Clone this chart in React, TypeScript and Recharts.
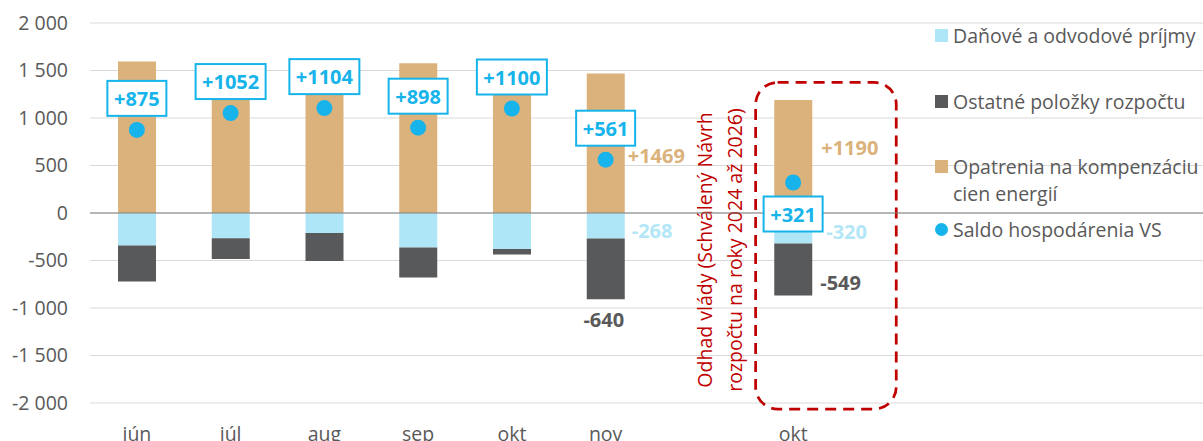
import React from 'react';
import {
  ComposedChart,
  Bar,
  Line,
  XAxis,
  YAxis,
  CartesianGrid,
  ReferenceLine,
  ReferenceArea,
  LabelList,
  Legend,
} from 'recharts';

if (typeof document !== 'undefined') {
  document.body.style.margin = '0';
}

// ---------- data ----------
const categories = ['jún', 'júl', 'aug', 'sep', 'okt', 'nov', '', 'okt', '', '', '', ''];
const danove = [-341, -267, -211, -362, -379, -268, null, -320, null, null, null, null];
const ostatne = [-379, -217, -294, -316, -57, -640, null, -549, null, null, null, null];
const opatrenia = [1595, 1536, 1609, 1576, 1536, 1469, null, 1190, null, null, null, null];
const saldo = [875, 1052, 1104, 898, 1100, 561, null, 321, null, null, null, null];
const yTicks = [-2000, -1500, -1000, -500, 0, 500, 1000, 1500, 2000];
const annotatedIndices = [5, 7];
const forecastIndex = 7;
const forecastNote = ['Odhad vlády (Schválený Návrh', 'rozpočtu na roky 2024 až 2026)'];
const legendItems = [
  { name: 'Daňové a odvodové príjmy', key: 'danove', shape: 'square' },
  { name: 'Ostatné položky rozpočtu', key: 'ostatne', shape: 'square' },
  { name: 'Opatrenia na kompenzáciu\ncien energií', key: 'opatrenia', shape: 'square' },
  { name: 'Saldo hospodárenia VS', key: 'saldo', shape: 'circle' },
];

const keys = categories.map((_, i) => `c${i}`);
const labelByKey: Record<string, string> = {};
keys.forEach((k, i) => (labelByKey[k] = categories[i]));
const data = keys.map((k, i) => ({
  key: k,
  danove: danove[i],
  ostatne: ostatne[i],
  opatrenia: opatrenia[i],
  saldo: saldo[i],
}));
const seriesByKind: Record<string, (number | null)[]> = {
  light: danove,
  dark: ostatne,
  tan: opatrenia,
};

// ---------- styles ----------
const FONT = '"Open Sans", "Noto Sans", sans-serif';
const C_TAN = '#dbb27b';
const C_LIGHT = '#aee6f8';
const C_DARK = '#58595b';
const C_CYAN = '#16b4ea';
const C_TEXT = '#595959';
const C_RED = '#c00000';
const COLORS: Record<string, string> = {
  danove: C_LIGHT,
  ostatne: C_DARK,
  opatrenia: C_TAN,
  saldo: C_CYAN,
};

const fmtY = (v: number) => {
  const s = Math.abs(v).toString().replace(/\B(?=(\d{3})+(?!\d))/g, ' ');
  return (v < 0 ? '-' : '') + s;
};

const rectOf = (props: any) => {
  const vb = props.viewBox && props.viewBox.width != null ? props.viewBox : props;
  const x = Number(vb.x);
  const w = Number(vb.width);
  const y = Number(vb.y);
  const h = Number(vb.height);
  return {
    x,
    w,
    top: Math.min(y, y + h),
    bottom: Math.max(y, y + h),
  };
};

const SaldoLabel = (props: any) => {
  const { value, index } = props;
  if (value == null) return null;
  const vb = props.viewBox || {};
  const x = Number(props.x ?? vb.x);
  const y = Number(props.y ?? vb.y);
  if (!isFinite(x) || !isFinite(y)) return null;
  const below = index === forecastIndex;
  const text = `+${value}`;
  const w = 11 * text.length + 15;
  const h = 35;
  const cy = below ? y + 31.5 : y - 31.5;
  return (
    <g>
      <rect x={x - w / 2} y={cy - h / 2} width={w} height={h} fill="#ffffff" stroke={C_CYAN} strokeWidth={2} />
      <text
        x={x}
        y={cy}
        textAnchor="middle"
        dominantBaseline="central"
        fill={C_CYAN}
        fontWeight={700}
        fontSize={20}
        fontFamily={FONT}
      >
        {text}
      </text>
    </g>
  );
};

const keyAccessor = (entry: any) => entry?.payload?.key ?? entry?.value;

const makeBarLabel = (kind: 'tan' | 'light' | 'dark') => (props: any) => {
  const series = seriesByKind[kind];
  let idx = -1;
  if (typeof props.value === 'string' && keys.includes(props.value)) {
    idx = keys.indexOf(props.value);
  } else if (typeof props.value === 'number') {
    idx = series.indexOf(props.value);
  }
  if (idx < 0 || !annotatedIndices.includes(idx)) return null;
  const value = series[idx];
  if (value == null) return null;
  const r = rectOf(props);
  if (!isFinite(r.x) || !isFinite(r.top)) return null;
  const right = r.x + r.w;
  const mid = (r.top + r.bottom) / 2;
  const fc = idx === forecastIndex;
  let x = right + 6;
  let y = mid;
  let anchor: 'start' | 'middle' = 'start';
  let fill = C_TEXT;
  let text = `${value}`;
  if (kind === 'tan') {
    fill = C_TAN;
    text = `+${value}`;
    x = right + (fc ? 9 : 3);
    y = mid + (fc ? -8.5 : 12.5);
  } else if (kind === 'light') {
    fill = '#b3e6f6';
    x = right + (fc ? 14 : 7);
    y = mid + (fc ? 3 : 4.5);
  } else {
    fill = C_TEXT;
    if (fc) {
      x = right + 8;
      y = mid + 13;
    } else {
      x = r.x + r.w / 2 - 2;
      y = r.bottom + 20;
      anchor = 'middle';
    }
  }
  return (
    <text
      x={x}
      y={y}
      textAnchor={anchor}
      dominantBaseline="central"
      fill={fill}
      fontWeight={700}
      fontSize={20}
      fontFamily={FONT}
    >
      {text}
    </text>
  );
};

const ForecastBox = (props: any) => {
  const x = Number(props.x);
  const y = Number(props.y);
  const width = Number(props.width);
  const height = Number(props.height);
  if (![x, y, width, height].every(isFinite)) return null;
  const bx = x + 0.1 * width;
  const bw = 1.5 * width;
  const bh = height + 6;
  const cy = 250;
  return (
    <g>
      <rect
        x={bx}
        y={y}
        width={bw}
        height={bh}
        rx={22}
        ry={22}
        fill="none"
        stroke={C_RED}
        strokeWidth={2.75}
        strokeDasharray="11 7"
      />
      {forecastNote.map((line, i) => {
        const cx = bx - 51 + i * 30;
        return (
          <text
            key={i}
            x={cx}
            y={cy}
            transform={`rotate(-90, ${cx}, ${cy})`}
            textAnchor="middle"
            dominantBaseline="central"
            fill={C_RED}
            fontSize={19.5}
            fontFamily={FONT}
          >
            {line}
          </text>
        );
      })}
    </g>
  );
};

const legendTops = [21.5, 87.5, 152.5, 215.5];

const renderLegend = () => (
  <div style={{ position: 'relative', width: 268, height: 260, fontFamily: FONT }}>
    {legendItems.map((it, i) => {
      const lines = it.name.split('\n');
      return (
        <div
          key={it.key}
          style={{
            position: 'absolute',
            left: 0,
            top: legendTops[i],
            display: 'flex',
            alignItems: 'flex-start',
          }}
        >
          <div style={{ width: 18, height: 27, position: 'relative', flex: 'none' }}>
            <div
              style={{
                position: 'absolute',
                left: 0,
                top: 7,
                width: 13,
                height: 13,
                background: COLORS[it.key],
                borderRadius: it.shape === 'circle' ? '50%' : 0,
              }}
            />
          </div>
          <div style={{ color: C_TEXT, fontSize: 19.5, lineHeight: '27px', whiteSpace: 'nowrap' }}>
            {lines.map((l, j) => (
              <div key={j}>{l}</div>
            ))}
          </div>
        </div>
      );
    })}
  </div>
);

export default function App() {
  return (
    <div style={{ width: 1203, height: 441, overflow: 'hidden', fontFamily: FONT, background: '#fff' }}>
      <ComposedChart
        width={1215}
        height={441}
        data={data}
        stackOffset="sign"
        margin={{ top: 23, right: 0, bottom: 0, left: 0 }}
      >
        <CartesianGrid vertical={false} stroke="#d9d9d9" strokeWidth={1.2} />
        <XAxis
          dataKey="key"
          interval={0}
          axisLine={false}
          tickLine={false}
          tickSize={0}
          tickMargin={24}
          height={38}
          tickFormatter={(k: string) => labelByKey[k] ?? ''}
          tick={{ fill: C_TEXT, fontSize: 19.5, fontFamily: FONT }}
        />
        <YAxis
          domain={[-2000, 2000]}
          ticks={yTicks}
          width={90}
          axisLine={false}
          tickLine={false}
          tickSize={0}
          tickMargin={22}
          tickFormatter={fmtY}
          tick={{ fill: C_TEXT, fontSize: 19.5, fontFamily: FONT }}
        />
        <Legend
          layout="vertical"
          align="center"
          verticalAlign="middle"
          content={renderLegend}
          wrapperStyle={{ position: 'absolute', left: 935, top: 0, width: 268, height: 260 }}
        />
        <ReferenceLine y={0} stroke="#808080" strokeWidth={1.2} />
        <Bar dataKey="danove" stackId="s" fill={C_LIGHT} barSize={38} isAnimationActive={false}>
          <LabelList valueAccessor={keyAccessor} content={makeBarLabel('light')} />
        </Bar>
        <Bar dataKey="ostatne" stackId="s" fill={C_DARK} barSize={38} isAnimationActive={false}>
          <LabelList valueAccessor={keyAccessor} content={makeBarLabel('dark')} />
        </Bar>
        <Bar dataKey="opatrenia" stackId="s" fill={C_TAN} barSize={38} isAnimationActive={false}>
          <LabelList valueAccessor={keyAccessor} content={makeBarLabel('tan')} />
        </Bar>
        <ReferenceArea
          x1={keys[forecastIndex]}
          x2={keys[forecastIndex]}
          y1={1375}
          y2={-2000}
          ifOverflow="visible"
          shape={ForecastBox}
        />
        <Line
          dataKey="saldo"
          stroke="none"
          isAnimationActive={false}
          dot={{ r: 8, fill: C_CYAN, stroke: 'none' }}
          activeDot={false}
          legendType="circle"
        >
          <LabelList dataKey="saldo" content={SaldoLabel} />
        </Line>
      </ComposedChart>
    </div>
  );
}
